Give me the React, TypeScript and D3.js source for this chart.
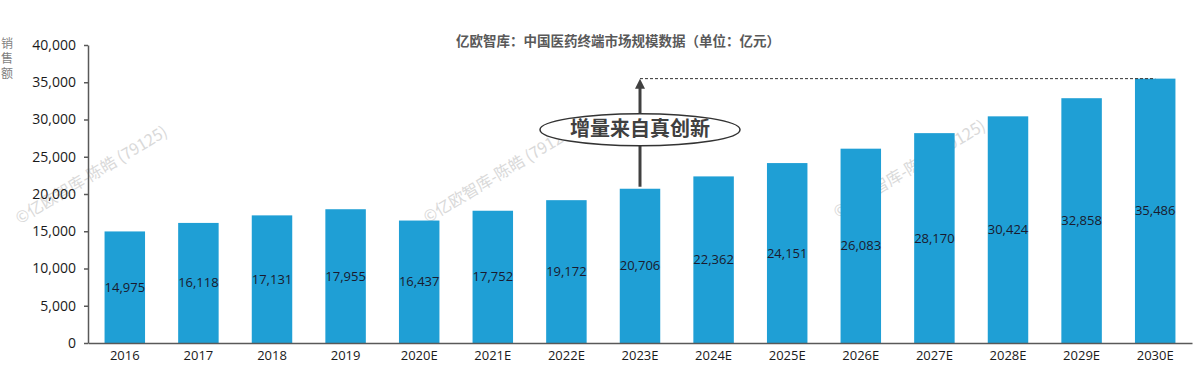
import * as d3 from "d3";
import { useEffect, useRef } from "react";

const years = ["2016", "2017", "2018", "2019", "2020E", "2021E", "2022E", "2023E", "2024E", "2025E", "2026E", "2027E", "2028E", "2029E", "2030E"];
const sales = [14975, 16118, 17131, 17955, 16437, 17752, 19172, 20706, 22362, 24151, 26083, 28170, 30424, 32858, 35486];
const yTicks = [0, 5000, 10000, 15000, 20000, 25000, 30000, 35000, 40000];

const title = "亿欧智库：中国医药终端市场规模数据（单位：亿元）";
const yLabel = ["销", "售", "额"];
const note = "增量来自真创新";
const noteFrom = "2023E";
const watermark = "©亿欧智库-陈皓 (79125)";
const watermarkAt = [[92, 176], [500, 175], [910, 170]];

const W = 1200, H = 368;
const margin = { top: 45, right: 8, bottom: 25, left: 88 };
const cjk = "'Noto Sans CJK SC', 'Noto Sans', sans-serif";
const num = "'Open Sans', 'Noto Sans', sans-serif";
const barColor = "#1f9fd5";

export default function App() {
    const svgRef = useRef(null);

    useEffect(() => {
        const svg = d3.select(svgRef.current);
        svg.selectAll("*").remove();

        const innerW = W - margin.left - margin.right;
        const innerH = H - margin.top - margin.bottom;

        const x = d3.scaleBand().domain(years).range([0, innerW]).paddingInner(0.45).paddingOuter(0.225);
        const y = d3.scaleLinear().domain([0, 40000]).range([innerH, 0]);

        // watermarks
        watermarkAt.forEach(([wx, wy]) => {
            svg.append("text")
                .attr("transform", `translate(${wx},${wy}) rotate(-31)`)
                .attr("text-anchor", "middle")
                .attr("dominant-baseline", "middle")
                .style("font-family", cjk)
                .style("font-size", "16px")
                .style("fill", "#d9d9d9")
                .text(watermark);
        });

        // title
        svg.append("text")
            .attr("x", 618)
            .attr("y", 42)
            .attr("text-anchor", "middle")
            .attr("dominant-baseline", "middle")
            .style("font-family", cjk)
            .style("font-size", "13.5px")
            .style("font-weight", "bold")
            .style("fill", "#595959")
            .text(title);

        // y label, stacked
        yLabel.forEach((c, i) => {
            svg.append("text")
                .attr("x", 7)
                .attr("y", 45 + i * 15)
                .attr("text-anchor", "middle")
                .attr("dominant-baseline", "middle")
                .style("font-family", cjk)
                .style("font-size", "12px")
                .style("fill", "#7f7f7f")
                .text(c);
        });

        const g = svg.append("g").attr("transform", `translate(${margin.left},${margin.top})`);

        // bars
        g.selectAll("rect.bar")
            .data(sales)
            .join("rect")
            .attr("class", "bar")
            .attr("x", (d, i) => x(years[i])!)
            .attr("y", d => y(d))
            .attr("width", x.bandwidth())
            .attr("height", d => innerH - y(d))
            .style("fill", barColor);

        // value labels
        g.selectAll("text.val")
            .data(sales)
            .join("text")
            .attr("class", "val")
            .attr("x", (d, i) => x(years[i])! + x.bandwidth() / 2)
            .attr("y", d => (y(d) + innerH) / 2 + 1)
            .attr("text-anchor", "middle")
            .attr("dominant-baseline", "middle")
            .style("font-family", num)
            .style("font-size", "13px")
            .style("fill", "#1a1a2e")
            .text(d => d3.format(",")(d));

        // y axis
        g.append("g")
            .call(d3.axisLeft(y).tickValues(yTicks).tickSize(4).tickSizeOuter(0).tickPadding(8).tickFormat(d3.format(",")))
            .call(a => a.selectAll("line, path").style("stroke", "#595959").style("stroke-width", 1.5))
            .call(a => a.selectAll("text").style("font-family", num).style("font-size", "14px").style("fill", "#1a1a1a"));

        // x axis
        g.append("g")
            .attr("transform", `translate(0,${innerH})`)
            .call(d3.axisBottom(x).tickSize(0).tickSizeOuter(0).tickPadding(8))
            .call(a => a.select(".domain").style("stroke", "#595959").style("stroke-width", 1.5))
            .call(a => a.selectAll("text").style("font-family", num).style("font-size", "13px").style("fill", "#1a1a1a"));

        // annotation: arrow from 2023E bar to 2030E level
        const ax = x(noteFrom)! + x.bandwidth() / 2;
        const topY = y(sales[sales.length - 1]);
        const fromY = y(sales[years.indexOf(noteFrom)]);
        const lastX = x(years[years.length - 1])! + x.bandwidth() / 2;

        g.append("line")
            .attr("x1", ax).attr("x2", lastX)
            .attr("y1", topY).attr("y2", topY)
            .style("stroke", "#333")
            .style("stroke-width", 1)
            .style("stroke-dasharray", "3,2");

        g.append("line")
            .attr("x1", ax).attr("x2", ax)
            .attr("y1", fromY - 2).attr("y2", topY + 8)
            .style("stroke", "#404040")
            .style("stroke-width", 3);

        g.append("path")
            .attr("d", `M${ax},${topY} L${ax - 5},${topY + 10} L${ax + 5},${topY + 10} Z`)
            .style("fill", "#404040");

        const ey = (topY + fromY) / 2 - 4;
        g.append("ellipse")
            .attr("cx", ax)
            .attr("cy", ey)
            .attr("rx", 100)
            .attr("ry", 16)
            .style("fill", "#fff")
            .style("stroke", "#333")
            .style("stroke-width", 1.5);

        g.append("text")
            .attr("x", ax)
            .attr("y", ey + 1)
            .attr("text-anchor", "middle")
            .attr("dominant-baseline", "middle")
            .style("font-family", cjk)
            .style("font-size", "20px")
            .style("font-weight", "bold")
            .style("fill", "#404040")
            .text(note);
    }, []);

    return (
        <svg ref={svgRef} width={W} height={H} style={{ position: "absolute", left: 0, top: 0, background: "#fff" }} />
    );
}
